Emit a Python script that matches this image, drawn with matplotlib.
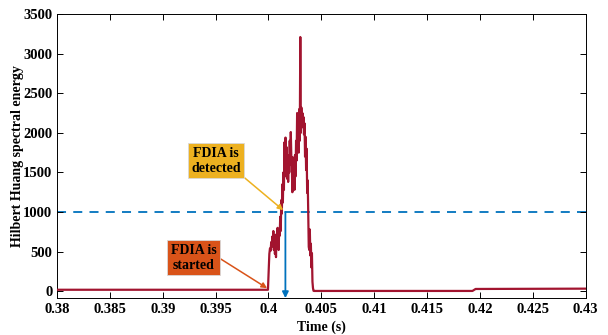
import matplotlib.pyplot as plt

plt.rcParams['font.family'] = ['Liberation Serif', 'DejaVu Serif']
plt.rcParams['font.weight'] = 'bold'

# time (s) and Hilbert Huang spectral energy
time = [0.3800, 0.3900, 0.39995,
        0.40003, 0.40008, 0.40014, 0.40020, 0.40026, 0.40031, 0.40036, 0.40041,
        0.40046, 0.40051, 0.40056, 0.40061, 0.40066, 0.40071, 0.40076, 0.40081,
        0.40086, 0.40091, 0.40096, 0.40101, 0.40106, 0.40111, 0.40116, 0.40121,
        0.40126, 0.40131, 0.40136, 0.40141, 0.40146, 0.40151, 0.40156, 0.40161,
        0.40166, 0.40171, 0.40176, 0.40181, 0.40186, 0.40191, 0.40196, 0.40201,
        0.40206, 0.40211, 0.40216, 0.40221, 0.40226, 0.40231, 0.40236, 0.40241,
        0.40246, 0.40251, 0.40256, 0.40261, 0.40266, 0.40271, 0.40276, 0.40281,
        0.40286, 0.40291, 0.40296, 0.40301, 0.40306, 0.40311, 0.40316, 0.40321,
        0.40326, 0.40331, 0.40336, 0.40341, 0.40346, 0.40351, 0.40356, 0.40361,
        0.40366, 0.40371, 0.40376, 0.40381, 0.40386, 0.40391, 0.40396, 0.40401,
        0.40406, 0.40411, 0.40416, 0.40421, 0.40426, 0.40431, 0.40436,
        0.4100, 0.4193, 0.4196, 0.4250, 0.4300]
energy = [18, 18, 18,
          300, 470, 540, 510, 620, 560, 690, 600,
          760, 520, 700, 470, 650, 430, 720, 560,
          800, 640, 520, 780, 700, 940, 760, 1150,
          980, 1350, 1120, 1500, 1280, 1880, 1450, 1940,
          1600, 1820, 1420, 1720, 1380, 1660, 1500, 1900,
          1600, 2010, 1700, 1550, 1250, 1690, 1350, 1500,
          1280, 1720, 1450, 1900, 1650, 2250, 1950, 2100,
          1750, 2300, 1900, 3210, 2000, 2320, 2100, 2250,
          2070, 2200, 1980, 2120, 1700, 1950, 1530, 1800,
          1240, 1400, 1000, 560, 520, 780, 450, 600,
          300, 480, 120, 40, 5, 3, 3,
          3, 3, 28, 30, 32]

threshold = 1000
detect_time = 0.4016

fig = plt.figure(figsize=(6.08, 3.35), dpi=100)
ax = fig.add_axes([0.094, 0.110, 0.869, 0.848])

ax.axhline(threshold, color='#0072BD', linestyle=(0, (5, 4)), linewidth=1.3, zorder=1)
ax.plot(time, energy, color='#A2142F', linewidth=1.6, zorder=3)
ax.annotate('', xy=(detect_time, -88), xytext=(detect_time, threshold),
            arrowprops=dict(arrowstyle='-|>', color='#0072BD', lw=1.3,
                            mutation_scale=9, shrinkA=0, shrinkB=0), zorder=4)

ax.annotate('FDIA is\ndetected', xy=(0.40139, 1023), xytext=(0.39504, 1648),
            ha='center', va='center', fontsize=10, fontweight='bold',
            bbox=dict(boxstyle='square,pad=0.25', fc='#EDB120', ec='#D9D9D9', lw=0.6),
            arrowprops=dict(arrowstyle='-|>', color='#EDB120', lw=1.1,
                            mutation_scale=8, shrinkA=0, shrinkB=0,
                            relpos=(1.0, 0.0)))
ax.annotate('FDIA is\nstarted', xy=(0.39987, 38), xytext=(0.39291, 423),
            ha='center', va='center', fontsize=10, fontweight='bold',
            bbox=dict(boxstyle='square,pad=0.25', fc='#D95319', ec='#D9D9D9', lw=0.6),
            arrowprops=dict(arrowstyle='-|>', color='#D95319', lw=1.1,
                            mutation_scale=8, shrinkA=0, shrinkB=0,
                            relpos=(1.0, 0.55)))

ax.set_xlim(0.38, 0.43)
ax.set_ylim(-88, 3500)
ax.set_xticks([0.38, 0.385, 0.39, 0.395, 0.4, 0.405, 0.41, 0.415, 0.42, 0.425, 0.43])
ax.set_xticklabels(['0.38', '0.385', '0.39', '0.395', '0.4', '0.405', '0.41',
                    '0.415', '0.42', '0.425', '0.43'])
ax.set_yticks(range(0, 3501, 500))
ax.tick_params(direction='in', top=True, right=True, labelsize=10.5, length=4, width=0.7)
for lab in ax.get_xticklabels() + ax.get_yticklabels():
    lab.set_fontweight('bold')
for s in ax.spines.values():
    s.set_linewidth(0.7)

ax.set_xlabel('Time (s)', fontsize=10, fontweight='bold', labelpad=3)
ax.set_ylabel('Hilbert Huang spectral energy', fontsize=10, fontweight='bold', labelpad=-1)

fig.savefig('out.png', dpi=100)
